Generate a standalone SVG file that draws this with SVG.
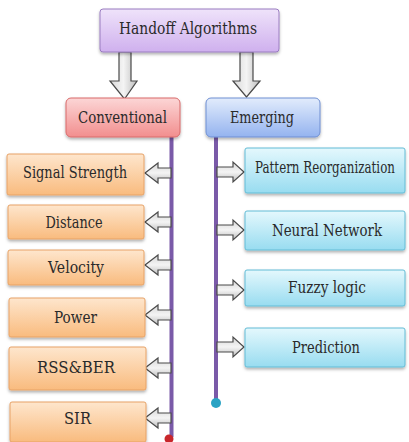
<svg xmlns="http://www.w3.org/2000/svg" width="409" height="442" viewBox="0 0 409 442">
<defs>
<linearGradient id="gPurple" x1="0" y1="0" x2="0" y2="1"><stop offset="0" stop-color="#efe3fa"/><stop offset="1" stop-color="#cfb0ee"/></linearGradient>
<linearGradient id="gPink" x1="0" y1="0" x2="0" y2="1"><stop offset="0" stop-color="#fcd6d6"/><stop offset="1" stop-color="#f28e8e"/></linearGradient>
<linearGradient id="gBlue" x1="0" y1="0" x2="0" y2="1"><stop offset="0" stop-color="#e2ecfc"/><stop offset="1" stop-color="#94b3ef"/></linearGradient>
<linearGradient id="gOrange" x1="0" y1="0" x2="0" y2="1"><stop offset="0" stop-color="#fee6cd"/><stop offset="1" stop-color="#f9bb7e"/></linearGradient>
<linearGradient id="gCyan" x1="0" y1="0" x2="0" y2="1"><stop offset="0" stop-color="#e4f8fd"/><stop offset="1" stop-color="#98dcf0"/></linearGradient>
<linearGradient id="gGrayV" x1="0" y1="0" x2="1" y2="0"><stop offset="0" stop-color="#d8d8d8"/><stop offset="0.5" stop-color="#f4f4f4"/><stop offset="1" stop-color="#bdbdbd"/></linearGradient>
<linearGradient id="gGrayH" x1="0" y1="0" x2="0" y2="1"><stop offset="0" stop-color="#d8d8d8"/><stop offset="0.5" stop-color="#f4f4f4"/><stop offset="1" stop-color="#bdbdbd"/></linearGradient>
<filter id="sh" x="-10%" y="-10%" width="120%" height="140%"><feDropShadow dx="0" dy="2" stdDeviation="1.5" flood-color="#000" flood-opacity="0.3"/></filter>
</defs>
<style>
.t{font-family:"DejaVu Serif","Liberation Serif",serif;font-size:16.5px;fill:#2a2a2a;text-anchor:middle;dominant-baseline:central}
.box{filter:url(#sh);stroke-width:1}
.top{fill:url(#gPurple);stroke:#9a7cc0}
.conv{fill:url(#gPink);stroke:#d86a6a}
.emer{fill:url(#gBlue);stroke:#6f8fd2}
.org{fill:url(#gOrange);stroke:#e7a266}
.cyn{fill:url(#gCyan);stroke:#63bcd6}
.arV{fill:url(#gGrayV);stroke:#4a4a4a;stroke-width:1.2}
.arH{fill:url(#gGrayH);stroke:#4a4a4a;stroke-width:1.2}
.line{stroke:#7a5aa8;stroke-width:4;fill:none}
</style>

<g id="connectors">
<line class="line" x1="171.5" y1="137" x2="171.5" y2="437"/>
<line class="line" x1="216" y1="137" x2="216" y2="400"/>
<circle cx="169" cy="439" r="4.5" fill="#c8262b"/>
<circle cx="216" cy="403" r="5" fill="#2aa3c4"/>
<path class="arV" d="M119,52 H131 V81 H137 L124.5,99 L110,81 H119 Z"/>
<path class="arV" d="M240,52 H253 V81 H260 L246.5,97 L233,81 H240 Z"/>
<path class="arH" d="M171,168 H158 V163 L145,173 L158,183 V178 H171 Z"/>
<path class="arH" d="M171,217 H158 V212 L145,222 L158,232 V227 H171 Z"/>
<path class="arH" d="M171,260 H158 V255 L145,265 L158,275 V270 H171 Z"/>
<path class="arH" d="M171,310 H158 V305 L145,315 L158,325 V320 H171 Z"/>
<path class="arH" d="M171,363 H158 V358 L145,368 L158,378 V373 H171 Z"/>
<path class="arH" d="M171,413 H158 V408 L145,418 L158,428 V423 H171 Z"/>
<path class="arH" d="M217,167 H233 V162 L244,172 L233,182 V177 H217 Z"/>
<path class="arH" d="M217,225 H233 V220 L244,230 L233,240 V235 H217 Z"/>
<path class="arH" d="M217,285 H233 V280 L244,290 L233,300 V295 H217 Z"/>
<path class="arH" d="M217,342 H233 V337 L244,347 L233,357 V352 H217 Z"/>
</g>

<g id="handoff"><rect class="box top" x="100" y="9" width="179" height="43" rx="3"/><text class="t" x="188" y="28" textLength="138" lengthAdjust="spacingAndGlyphs">Handoff Algorithms</text></g>
<g id="conventional"><rect class="box conv" x="66" y="98" width="114" height="39" rx="5"/><text class="t" x="122.5" y="117" textLength="89" lengthAdjust="spacingAndGlyphs">Conventional</text></g>
<g id="emerging"><rect class="box emer" x="206" y="98" width="114" height="39" rx="5"/><text class="t" x="262" y="117" textLength="64" lengthAdjust="spacingAndGlyphs">Emerging</text></g>

<g id="signal"><rect class="box org" x="7" y="154" width="137" height="41" rx="2"/><text class="t" x="75" y="172" textLength="104" lengthAdjust="spacingAndGlyphs">Signal Strength</text></g>
<g id="distance"><rect class="box org" x="8" y="205" width="136" height="34" rx="2"/><text class="t" x="74" y="222" textLength="57" lengthAdjust="spacingAndGlyphs">Distance</text></g>
<g id="velocity"><rect class="box org" x="8" y="250" width="136" height="35" rx="2"/><text class="t" x="76" y="267" textLength="56" lengthAdjust="spacingAndGlyphs">Velocity</text></g>
<g id="power"><rect class="box org" x="9" y="298" width="136" height="39" rx="2"/><text class="t" x="75.5" y="317" textLength="43" lengthAdjust="spacingAndGlyphs">Power</text></g>
<g id="rssber"><rect class="box org" x="9" y="347" width="137" height="43" rx="2"/><text class="t" x="76" y="367" textLength="78" lengthAdjust="spacingAndGlyphs">RSS&amp;BER</text></g>
<g id="sir"><rect class="box org" x="10" y="402" width="136" height="40" rx="2"/><text class="t" x="77.5" y="418" textLength="27" lengthAdjust="spacingAndGlyphs">SIR</text></g>

<g id="pattern"><rect class="box cyn" x="245" y="148" width="160" height="45" rx="2"/><text class="t" transform="translate(325,167) scale(0.714,1)" x="0" y="0" textLength="196" lengthAdjust="spacingAndGlyphs" style="font-size:16px">Pattern Reorganization</text></g>
<g id="neural"><rect class="box cyn" x="245" y="211" width="160" height="39" rx="2"/><text class="t" x="327" y="230" textLength="110" lengthAdjust="spacingAndGlyphs">Neural Network</text></g>
<g id="fuzzy"><rect class="box cyn" x="245" y="270" width="160" height="36" rx="2"/><text class="t" x="327" y="287" textLength="78" lengthAdjust="spacingAndGlyphs">Fuzzy logic</text></g>
<g id="prediction"><rect class="box cyn" x="245" y="328" width="160" height="39" rx="2"/><text class="t" x="326" y="347" textLength="68" lengthAdjust="spacingAndGlyphs">Prediction</text></g>
</svg>
